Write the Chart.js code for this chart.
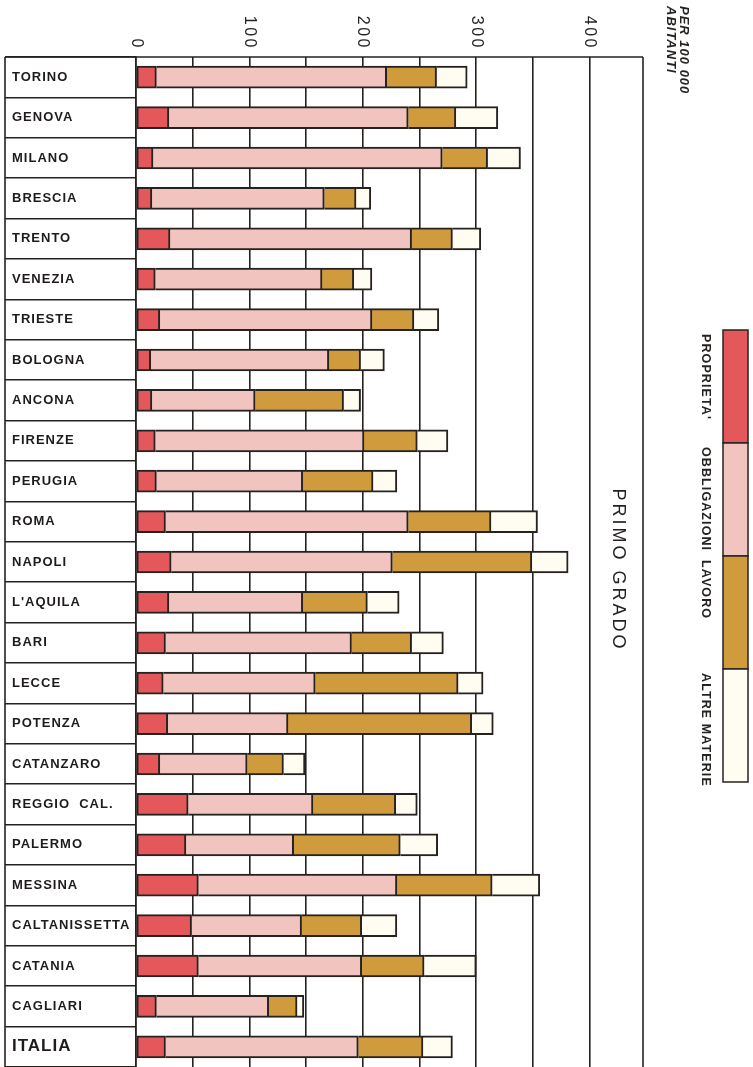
<!DOCTYPE html>
<html>
<head>
<meta charset="utf-8">
<script src="https://cdn.jsdelivr.net/npm/chart.js@4.4.1/dist/chart.umd.min.js"></script>
<style>
html,body{margin:0;padding:0;background:#fff;}
#wrap{position:relative;width:753px;height:1067px;}
</style>
</head>
<body>
<div id="wrap"><canvas id="c"></canvas></div>
<script>
const categories = ['TORINO','GENOVA','MILANO','BRESCIA','TRENTO','VENEZIA','TRIESTE','BOLOGNA','ANCONA','FIRENZE','PERUGIA','ROMA','NAPOLI',"L'AQUILA",'BARI','LECCE','POTENZA','CATANZARO','REGGIO  CAL.','PALERMO','MESSINA','CALTANISSETTA','CATANIA','CAGLIARI','ITALIA'];
const proprieta    = [18,29,15,14,30,17,21,13,14,17,18,26,31,29,26,24,28,21,46,44,55,49,55,18,26];
const obbligazioni = [203,211,255,152,213,147,187,157,91,184,129,214,195,118,164,134,106,77,110,95,175,97,144,99,170];
const lavoro       = [44,42,40,28,36,28,37,28,78,47,62,73,123,57,53,126,162,32,73,94,84,53,55,25,57];
const altreMaterie = [27,37,29,13,25,16,22,21,15,27,21,41,32,28,28,22,19,19,19,33,42,31,46,6,26];
const seriesNames  = ["PROPRIETA'", 'OBBLIGAZIONI', 'LAVORO', 'ALTRE MATERIE'];
const tickLabels   = [0,100,200,300,400];
const gridValues   = [0,50,100,150,200,250,300,350,400];
const axisNote     = ['PER 100 000', 'ABITANTI'];
const panelTitle   = 'PRIMO GRADO';

const colors = ['#e4585b', '#f2c4c0', '#d09b3d', '#fffdf2'];
const ink = '#262220';

const overlay = {
  id: 'overlay',
  afterDraw(chart) {
    const ctx = chart.ctx;
    const xs = chart.scales.x;
    const ca = chart.chartArea;
    ctx.save();
    ctx.strokeStyle = ink;
    ctx.lineWidth = 1.6;
    ctx.beginPath();
    ctx.moveTo(5, ca.top); ctx.lineTo(ca.right, ca.top);
    ctx.moveTo(5, ca.top); ctx.lineTo(5, ca.bottom);
    ctx.moveTo(ca.right, ca.top); ctx.lineTo(ca.right, ca.bottom);
    ctx.stroke();

    ctx.fillStyle = ink;
    ctx.font = '16px "Liberation Sans"';
    ctx.letterSpacing = '2.5px';
    tickLabels.forEach(v => {
      const px = xs.getPixelForValue(v);
      ctx.save();
      ctx.translate(px, 50);
      ctx.rotate(Math.PI / 2);
      ctx.textAlign = 'right';
      ctx.textBaseline = 'middle';
      ctx.fillText(String(v), 0, 0);
      ctx.restore();
    });

    ctx.font = 'italic bold 13px "Liberation Sans"';
    ctx.letterSpacing = '1px';
    [[684, axisNote[0]], [671, axisNote[1]]].forEach(([x, t]) => {
      ctx.save();
      ctx.translate(x, 6);
      ctx.rotate(Math.PI / 2);
      ctx.textAlign = 'left';
      ctx.textBaseline = 'middle';
      ctx.fillText(t, 0, 0);
      ctx.restore();
    });

    ctx.font = '18px "Liberation Sans"';
    ctx.letterSpacing = '3px';
    ctx.save();
    ctx.translate(618, 570);
    ctx.rotate(Math.PI / 2);
    ctx.textAlign = 'center';
    ctx.textBaseline = 'middle';
    ctx.fillText(panelTitle, 0, 0);
    ctx.restore();

    const sx = 723, sw = 25, top = 330, sh = 113;
    chart.data.datasets.forEach((ds, i) => {
      const y0 = top + i * sh;
      ctx.fillStyle = ds.backgroundColor;
      ctx.fillRect(sx, y0, sw, sh);
      ctx.strokeStyle = ink;
      ctx.lineWidth = 1.5;
      ctx.strokeRect(sx, y0, sw, sh);
      ctx.fillStyle = ink;
      ctx.font = 'bold 12.5px "Liberation Sans"';
      ctx.letterSpacing = '1.1px';
      ctx.save();
      ctx.translate(705, y0 + 4);
      ctx.rotate(Math.PI / 2);
      ctx.textAlign = 'left';
      ctx.textBaseline = 'middle';
      ctx.fillText(ds.label, 0, 0);
      ctx.restore();
    });
    ctx.restore();
  }
};

const spacing = {
  id: 'spacing',
  beforeDraw(chart) { chart.ctx.letterSpacing = '1px'; },
  afterDraw(chart) { chart.ctx.letterSpacing = '0px'; }
};

const seriesData = [proprieta, obbligazioni, lavoro, altreMaterie];
const datasets = seriesData.map((d, i) => ({
  label: seriesNames[i],
  data: d,
  backgroundColor: colors[i],
  borderColor: ink,
  borderWidth: 2,
  borderSkipped: i === 0 ? false : 'left',
  barThickness: 22
}));

new Chart(document.getElementById('c'), {
  type: 'bar',
  data: { labels: categories, datasets },
  options: {
    indexAxis: 'y',
    responsive: true,
    maintainAspectRatio: false,
    animation: false,
    events: [],
    layout: { padding: { top: 57, left: 12, right: 110, bottom: 0 } },
    plugins: { legend: { display: false }, tooltip: { enabled: false } },
    scales: {
      x: {
        stacked: true,
        position: 'top',
        min: 0,
        max: 447,
        afterBuildTicks: s => { s.ticks = gridValues.map(v => ({ value: v })); },
        afterFit: s => { s.height = 0; s.paddingLeft = 0; s.paddingRight = 0; },
        ticks: { display: false },
        grid: { color: ink, lineWidth: 1.6, drawTicks: false },
        border: { display: false }
      },
      y: {
        stacked: true,
        afterFit: s => { s.width = 124; s.paddingTop = 0; s.paddingBottom = 0; },
        ticks: {
          crossAlign: 'far',
          color: '#1e1b1a',
          font: c => (c.index === categories.length - 1)
            ? { family: '"Liberation Sans"', size: 17, weight: 'bold' }
            : { family: '"Liberation Sans"', size: 13, weight: 'bold' }
        },
        grid: { drawOnChartArea: false, drawTicks: true, tickLength: 131, color: ink, lineWidth: 1.6, offset: true },
        border: { display: true, color: ink, width: 1.6 }
      }
    }
  },
  plugins: [spacing, overlay]
});
</script>
</body>
</html>
